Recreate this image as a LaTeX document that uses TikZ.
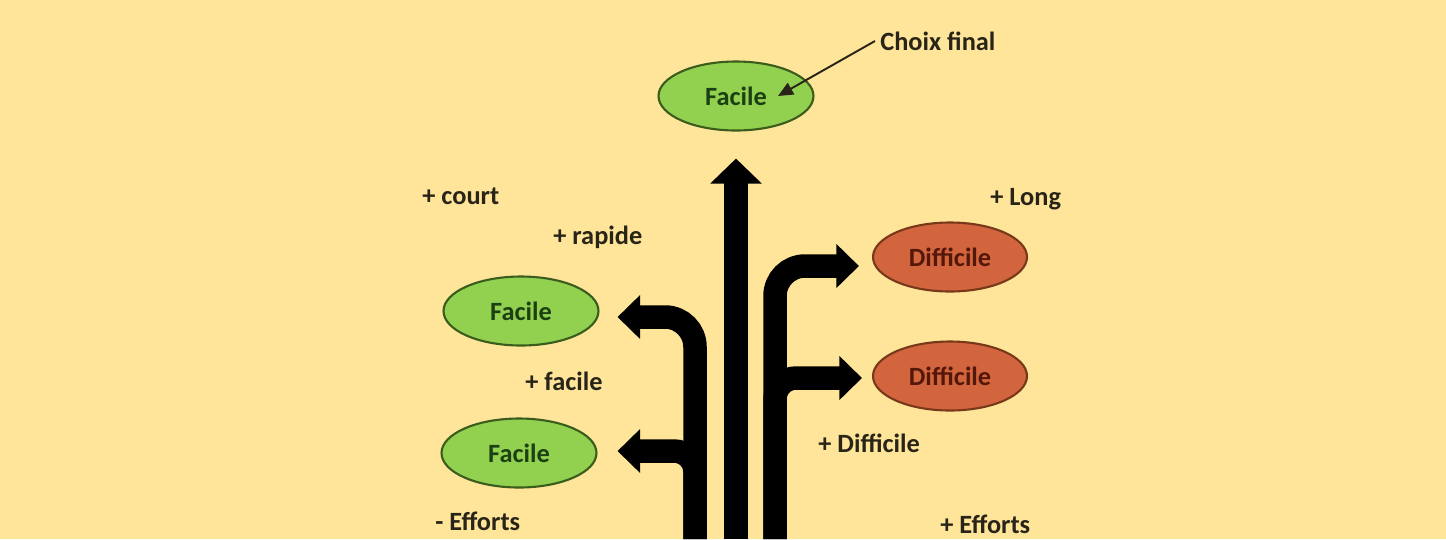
\documentclass[tikz,border=0pt]{standalone}
\usepackage{fontspec}
\setmainfont{Carlito}
\usepackage{tikz}
\usetikzlibrary{arrows.meta,positioning,calc,shapes.geometric}
\definecolor{PaperGold}{RGB}{255,229,153}
\definecolor{EasyGreen}{RGB}{146,208,80}
\definecolor{EasyLine}{RGB}{58,92,28}
\definecolor{EasyText}{RGB}{28,64,18}
\definecolor{HardRed}{RGB}{210,100,62}
\definecolor{HardLine}{RGB}{120,56,26}
\definecolor{HardText}{RGB}{84,24,10}
\definecolor{InkDark}{RGB}{40,36,24}

\begin{document}
\begin{tikzpicture}[
  x=0.02cm,y=-0.02cm,
  easy/.style={ellipse,draw=EasyLine,fill=EasyGreen,line width=1.2pt,minimum width=3.1cm,
               minimum height=1.38cm,font=\bfseries\fontsize{15}{16}\selectfont,text=EasyText},
  hard/.style={ellipse,draw=HardLine,fill=HardRed,line width=1.2pt,minimum width=3.08cm,
               minimum height=1.38cm,font=\bfseries\fontsize{15}{16}\selectfont,text=HardText},
  tag/.style={anchor=west,inner sep=0pt,font=\bfseries\fontsize{15}{16}\selectfont,text=InkDark},
  flow/.style={draw=black,line width=0.47cm},
  sidehead/.style={-{Triangle[length=0.45cm,width=0.85cm]}},
]
\path[fill=PaperGold,use as bounding box] (0,0) rectangle (1446,539);

% final choice
\node[easy] (fac0) at (736,96) {Facile};
\node[tag] (choix) at (880,41) {Choix final};
\coordinate (ctip) at (778,96);
\draw[InkDark,line width=1.1pt,-{Triangle[length=0.3cm,width=0.26cm]}]
  ([xshift=-0.1cm]choix.west) -- (ctip);

% options
\node[easy] (fac1) at (521,311) {Facile};
\node[easy] (fac2) at (519,453) {Facile};
\node[hard] (dif1) at (950,257) {Difficile};
\node[hard] (dif2) at (950,376) {Difficile};

% criteria
\node[tag] (court) at (422,196) {+ court};
\node[tag] (rapide) at (553,237) {+ rapide};
\node[tag] (facile) at (525,381) {+ facile};
\node[tag] (moins) at (435,521) {- Efforts};
\node[tag] (long) at (990,199) {+ Long};
\node[tag] (diff) at (818,443) {+ Difficile};
\node[tag] (plus) at (940,524) {+ Efforts};

% arrows from the bottom
\coordinate (b0) at (736,539);
\coordinate (b1) at (695,539);
\coordinate (b2) at (775,539);
\draw[flow,-{Triangle[length=0.5cm,width=1cm]},shorten >=0.54cm] (b0) -- (fac0.south);
\draw[flow,sidehead,rounded corners=0.6cm,shorten >=0.36cm] (b1) |- ([yshift=-0.12cm]fac1.east);
\draw[flow,sidehead,rounded corners=0.42cm,shorten >=0.4cm] (b1) |- ([yshift=0.04cm]fac2.east);
\draw[flow,sidehead,rounded corners=0.6cm,shorten >=0.26cm] (b2) |- ([yshift=-0.18cm]dif1.west);
\draw[flow,sidehead,rounded corners=0.42cm,shorten >=0.2cm] (b2) |- ([yshift=-0.04cm]dif2.west);
\end{tikzpicture}
\end{document}
